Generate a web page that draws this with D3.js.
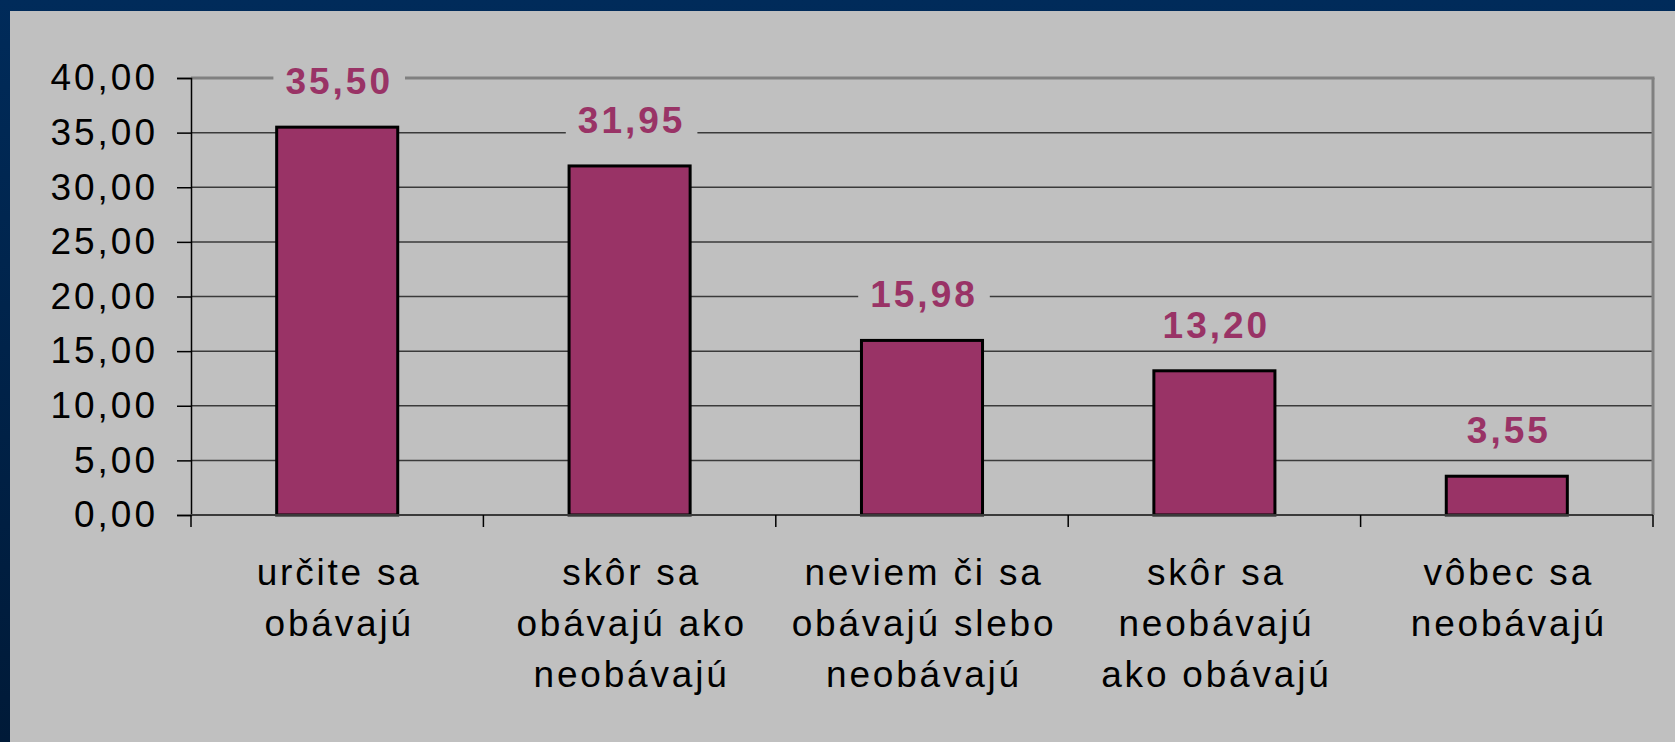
<!DOCTYPE html>
<html>
<head>
<meta charset="utf-8">
<script src="https://cdn.jsdelivr.net/npm/d3@7"></script>
<style>
  html, body { margin: 0; padding: 0; background: #002b5a; overflow: hidden; }
  svg { display: block; }
  text { font-family: "Liberation Sans", Arial, sans-serif; }
</style>
</head>
<body>
<svg></svg>
<script>
// data
var categories = [
    ["určite sa", "obávajú"],
    ["skôr sa", "obávajú ako", "neobávajú"],
    ["neviem či sa", "obávajú slebo", "neobávajú"],
    ["skôr sa", "neobávajú", "ako obávajú"],
    ["vôbec sa", "neobávajú"]
];
var values = [35.50, 31.95, 15.98, 13.20, 3.55];
var yTicks = [0, 5, 10, 15, 20, 25, 30, 35, 40];

var W = 1675, H = 742;
var margin = {top: 78, right: 22, bottom: 227, left: 191};
var width = W - margin.left - margin.right;
var height = H - margin.top - margin.bottom;

var svg = d3.select("svg").attr("width", W).attr("height", H);

// frame: dark navy edge, gray panel
var defs = svg.append("defs");
var grad = defs.append("linearGradient").attr("id", "edge").attr("x1", 0).attr("y1", 0).attr("x2", 0).attr("y2", 1);
grad.append("stop").attr("offset", "0%").attr("stop-color", "#002b5a");
grad.append("stop").attr("offset", "100%").attr("stop-color", "#001a38");
svg.append("rect").attr("width", W).attr("height", H).attr("fill", "url(#edge)");
svg.append("rect").attr("x", 10).attr("y", 11).attr("width", W - 10).attr("height", H - 11).attr("fill", "#c0c0c0");

var fmt = function(v) { return v.toFixed(2).replace(".", ","); };

var x = d3.scaleBand().domain(d3.range(values.length)).range([0, width]).padding(0);
var y = d3.scaleLinear().domain([0, 40]).range([height, 0]);
var barW = x.bandwidth() * 0.414;

var g = svg.append("g").attr("transform", "translate(" + margin.left + "," + margin.top + ")");

// gridlines
g.selectAll(".grid")
  .data(yTicks.filter(function(d) { return d > 0 && d < 40; }))
  .enter().append("line")
    .attr("class", "grid")
    .attr("x1", 0).attr("x2", width)
    .attr("y1", function(d) { return y(d); })
    .attr("y2", function(d) { return y(d); })
    .attr("stroke", "#3a3a3a").attr("stroke-width", 1.5);

// plot area border top + right
g.append("line").attr("x1", 0).attr("x2", width + 1.5).attr("y1", y(40)).attr("y2", y(40))
    .attr("stroke", "#808080").attr("stroke-width", 3);
g.append("line").attr("x1", width).attr("x2", width).attr("y1", y(40)).attr("y2", height)
    .attr("stroke", "#808080").attr("stroke-width", 3);

// y axis
var yAxis = g.append("g").call(d3.axisLeft(y).tickValues(yTicks).tickSize(14).tickPadding(19).tickFormat(fmt));
yAxis.select(".domain").attr("stroke", "#000").attr("stroke-width", 1.5);
yAxis.selectAll(".tick line").attr("stroke", "#000").attr("stroke-width", 1.5);
yAxis.selectAll("text")
    .attr("font-size", 37).attr("fill", "#000")
    .attr("letter-spacing", 3)
    .style("font-family", "'Liberation Sans', Arial, sans-serif");

// bars
g.selectAll(".bar")
  .data(values)
  .enter().append("rect")
    .attr("class", "bar")
    .attr("x", function(d, i) { return x(i) + (x.bandwidth() - barW) / 2; })
    .attr("y", function(d) { return y(d); })
    .attr("width", barW)
    .attr("height", function(d) { return height - y(d); })
    .attr("fill", "#993366")
    .attr("stroke", "#000").attr("stroke-width", 3);

// x axis line + ticks at band edges
g.append("line").attr("x1", 0).attr("x2", width).attr("y1", height).attr("y2", height)
    .attr("stroke", "#3a3a3a").attr("stroke-width", 2);
g.selectAll(".xtick")
  .data(d3.range(values.length + 1))
  .enter().append("line")
    .attr("class", "xtick")
    .attr("x1", function(d) { return d * x.step(); })
    .attr("x2", function(d) { return d * x.step(); })
    .attr("y1", height).attr("y2", height + 12)
    .attr("stroke", "#000").attr("stroke-width", 1.5);

// category labels
var cat = g.selectAll(".cat")
  .data(categories)
  .enter().append("text")
    .attr("class", "cat")
    .attr("x", function(d, i) { return x(i) + x.bandwidth() / 2 + 2; })
    .attr("y", height + 70)
    .attr("text-anchor", "middle")
    .attr("font-size", 37)
    .attr("letter-spacing", 2.8)
    .attr("fill", "#000");
cat.selectAll("tspan")
  .data(function(d) { return d; })
  .enter().append("tspan")
    .attr("x", function() { return this.parentNode.getAttribute("x"); })
    .attr("dy", function(d, i) { return i === 0 ? 0 : 51; })
    .text(function(d) { return d; });

// value labels with gray box covering gridlines
var lab = g.selectAll(".val")
  .data(values)
  .enter().append("g")
    .attr("class", "val")
    .attr("transform", function(d, i) {
        return "translate(" + (x(i) + x.bandwidth() / 2 + 2) + "," + (y(d) - 33) + ")";
    });
lab.append("text")
    .attr("text-anchor", "middle")
    .attr("font-size", 37)
    .attr("font-weight", "bold")
    .attr("letter-spacing", 3)
    .attr("fill", "#993366")
    .text(fmt);
lab.insert("rect", "text")
    .each(function() {
        var t = d3.select(this.parentNode).select("text").node().getBBox();
        d3.select(this)
          .attr("x", t.x - 12).attr("y", -34)
          .attr("width", t.width + 24).attr("height", 44)
          .attr("fill", "#c0c0c0");
    });
</script>
</body>
</html>
